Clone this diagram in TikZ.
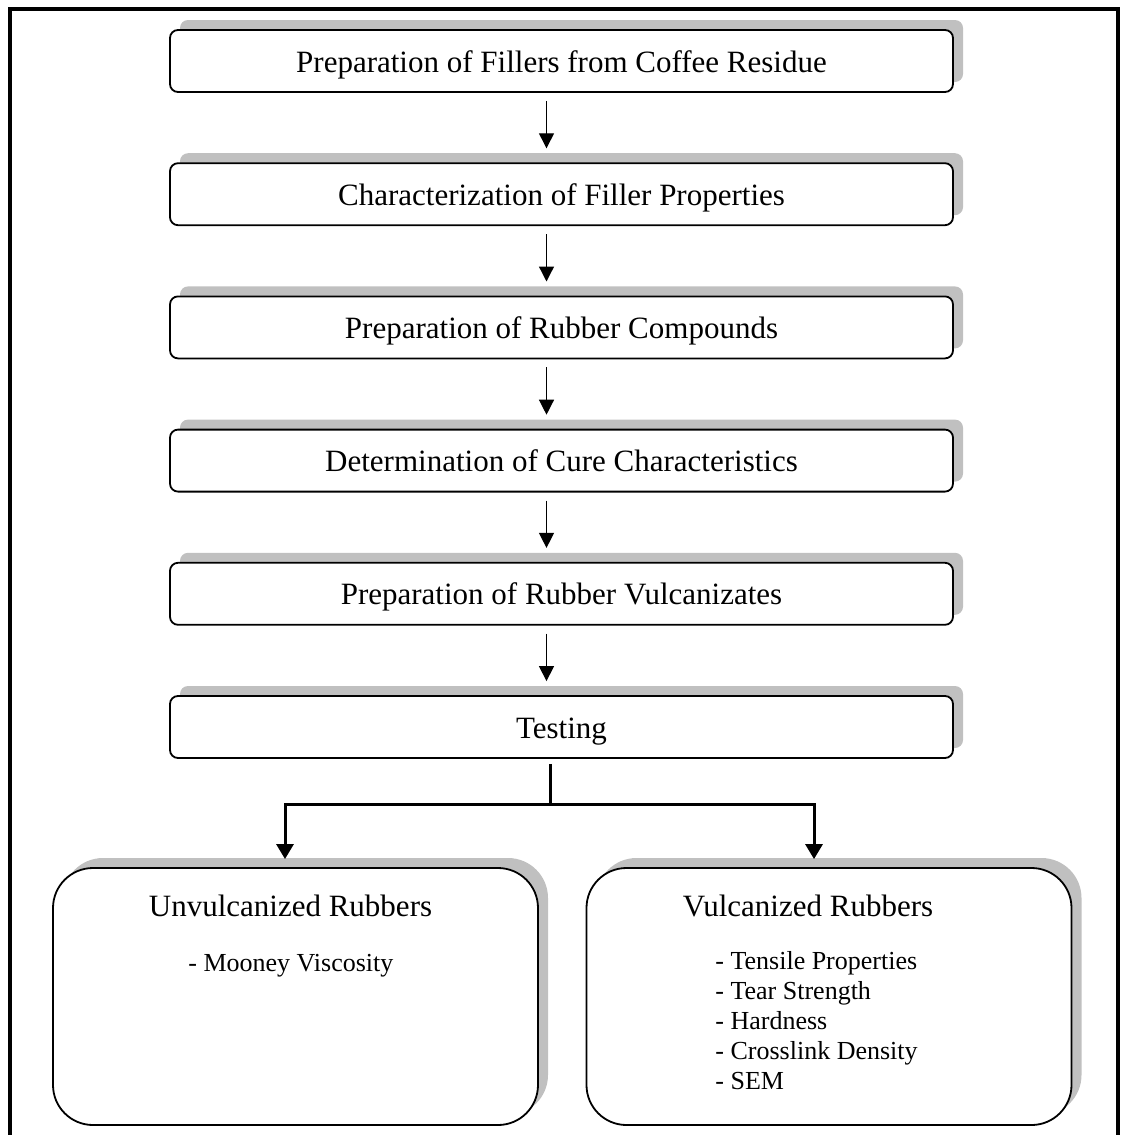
\documentclass[tikz,border=0pt]{standalone}
\usepackage{fontspec}
\setmainfont{Liberation Serif}
\usetikzlibrary{calc, shadows, arrows.meta}
\definecolor{shadowgray}{RGB}{192,192,192}
\tikzset{
    my-step-box/.style={
        draw, fill=white, rounded corners=4pt, line width=0.9pt,
        minimum width=391.5pt, minimum height=31pt, inner sep=0pt,
        text height=11pt, text depth=0pt,
        font=\fontsize{15.5}{18}\selectfont,
        general shadow={fill=shadowgray, shadow xshift=5pt, shadow yshift=5pt}
    },
    my-result-box/.style={
        draw, fill=white, rounded corners=20pt, line width=0.9pt,
        minimum width=242.5pt, minimum height=128.5pt, inner sep=0pt,
        general shadow={fill=shadowgray, shadow xshift=5pt, shadow yshift=5pt}
    },
    my-arrow/.style={
        -{Triangle[length=7.5pt, width=7.5pt]}, line width=0.65pt
    },
    my-thick-arrow/.style={
        -{Triangle[length=7.5pt, width=8.5pt]}, line width=1.5pt
    },
    my-title/.style={
        anchor=base, inner sep=0pt, font=\fontsize{15.5}{18}\selectfont
    },
    my-list/.style={
        anchor=base west, align=left, inner sep=0pt, font=\fontsize{13}{15}\selectfont
    },
}

\begin{document}
\begin{tikzpicture}[x=0.5pt, y=0.5pt]

        \useasboundingbox (0,0) rectangle (1120,-1135);

        % FRAME
        \draw[line width=2pt] (10,-1145) -- (10,-9) -- (1117.5,-9) -- (1117.5,-1145);

        % PROCESS STEPS
        \node[my-step-box] (FILLER)  at (561.5,-61)                 {Preparation of Fillers from Coffee Residue};
        \node[my-step-box] (CHARACT) at ($(FILLER)  + (0,-133.2)$) {Characterization of Filler Properties};
        \node[my-step-box] (COMPND)  at ($(CHARACT) + (0,-133.2)$) {Preparation of Rubber Compounds};
        \node[my-step-box] (CURE)    at ($(COMPND)  + (0,-133.2)$) {Determination of Cure Characteristics};
        \node[my-step-box] (VULCNZ)  at ($(CURE)    + (0,-133.2)$) {Preparation of Rubber Vulcanizates};
        \node[my-step-box] (TESTING) at ($(VULCNZ)  + (0,-133.2)$) {Testing};

        % STEP CONNECTIONS
        \draw[my-arrow] ($(FILLER.south)  + (-15,-8)$) -- ($(CHARACT.north) + (-15,14)$);
        \draw[my-arrow] ($(CHARACT.south) + (-15,-8)$) -- ($(COMPND.north)  + (-15,14)$);
        \draw[my-arrow] ($(COMPND.south)  + (-15,-8)$) -- ($(CURE.north)    + (-15,14)$);
        \draw[my-arrow] ($(CURE.south)    + (-15,-8)$) -- ($(VULCNZ.north)  + (-15,14)$);
        \draw[my-arrow] ($(VULCNZ.south)  + (-15,-8)$) -- ($(TESTING.north) + (-15,14)$);

        % RESULT BOXES
        \node[my-result-box] (UNVULC) at (295.5,-996.5)           {};
        \node[my-result-box] (VULC)   at ($(UNVULC) + (533.5,0)$) {};

        % BRANCH WIRES AND CONNECTOR POINTS
        \coordinate (SPLIT)     at ($(TESTING.south) + (-11.5,-46)$);
        \coordinate (UNVULCIN)  at ($(UNVULC.north)  + (-10.5,8)$);
        \coordinate (VULCIN)    at ($(VULC.north)    + (-15,8)$);
        \draw[line width=1.5pt] ($(TESTING.south) + (-11.5,-5)$) -- (SPLIT);
        \draw[my-thick-arrow] (SPLIT) -| (UNVULCIN);
        \draw[my-thick-arrow] (SPLIT) -| (VULCIN);

        % RESULT TEXTS
        \node[my-title] (UNVULCTITLE) at ($(UNVULC.north) + (-5,-49)$)      {Unvulcanized Rubbers};
        \node[my-list]  (UNVULCLIST)  at ($(UNVULC.north) + (-107.5,-104)$) {- Mooney Viscosity};
        \node[my-title] (VULCTITLE)   at ($(VULC.north)   + (-21,-49)$)     {Vulcanized Rubbers};
        \node[my-list]  (VULCLIST)    at ($(VULC.north)   + (-114,-222)$)
            {- Tensile Properties\\- Tear Strength\\- Hardness\\- Crosslink Density\\- SEM};

    \end{tikzpicture}
\end{document}
